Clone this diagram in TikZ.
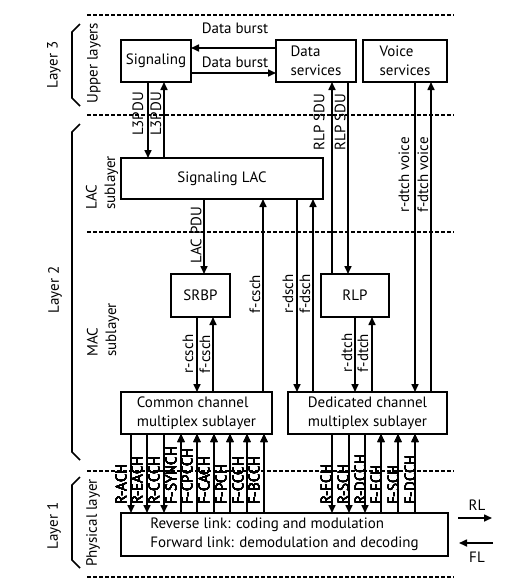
\documentclass[tikz,border=0pt]{standalone}
\usepackage{fontspec}
\setmainfont{PT Sans}
\usetikzlibrary{arrows.meta}
\newcommand\vconn[3]{\draw[arr] (#1,0 |- #2) -- (#1,0 |- #3);}
\begin{document}
\begin{tikzpicture}[x=1pt,y=-1pt,
  box/.style={draw,line width=2pt,inner sep=0pt,outer sep=0pt,align=left,
    font=\fontsize{15}{18.5}\selectfont},
  arr/.style={line width=1.6pt,-{Triangle[length=8pt,width=7pt]}},
  lbl/.style={rotate=90,inner sep=0pt,font=\fontsize{15}{17}\selectfont},
  hlbl/.style={inner sep=0pt,font=\fontsize{15}{17}\selectfont},
  sepline/.style={line width=1.8pt,dash pattern=on 4pt off 2pt},
  brace/.style={line width=1.6pt},
  sidelbl/.style={rotate=90,inner sep=0pt,align=left,font=\fontsize{15}{18.5}\selectfont}
]
\useasboundingbox[fill=white] (0,0) rectangle (527,587);

% separators
\foreach \yy in {15,115,232,471,577} \draw[sepline] (87,\yy) -- (454,\yy);

% braces
\draw[brace] (80,24) -- (72,32) -- (72,98) -- (80,106);
\draw[brace] (80,124) -- (72,132) -- (72,452) -- (80,460);
\draw[brace] (80,477) -- (72,485) -- (72,560) -- (80,568);

% side labels
\node[sidelbl] (l3) at (54,65) {Layer 3};
\node[sidelbl] (ul) at (94,63) {Upper layers};
\node[sidelbl] (l2) at (55,290) {Layer 2};
\node[sidelbl,anchor=west] (lacsub) at (102,210) {LAC\\sublayer};
\node[sidelbl,anchor=west] (macsub) at (103,357) {MAC\\sublayer};
\node[sidelbl] (l1) at (54,526) {Layer 1};
\node[sidelbl] (pl) at (93,523) {Physical layer};

% boxes
\node[box,minimum width=70pt,minimum height=42pt] (sig) at (156,61) {Signaling};
\node[box,minimum width=80pt,minimum height=42pt] (ds) at (316,61) {Data\\services};
\node[box,minimum width=84pt,minimum height=42pt] (voice) at (405,61) {Voice\\services};
\node[box,minimum width=202pt,minimum height=41pt] (lac) at (222,178.5) {Signaling LAC};
\node[box,minimum width=59pt,minimum height=43pt] (srbp) at (200.5,295.5) {SRBP};
\node[box,minimum width=68pt,minimum height=43pt] (rlp) at (355,295.5) {RLP};
\node[box,minimum width=151pt,minimum height=42pt] (cc) at (196.5,413) {Common channel\\multiplex sublayer};
\node[box,minimum width=159pt,minimum height=42pt] (ded) at (367.5,413) {Dedicated channel\\multiplex sublayer};
\node[box,minimum width=327pt,minimum height=43pt] (phy) at (284.5,534.5) {Reverse link: coding and modulation\\Forward link: demodulation and decoding};

% data burst
\draw[arr] (ds.west |- 0,48) -- (sig.east |- 0,48);
\draw[arr] (sig.east |- 0,73) -- (ds.west |- 0,73);
\node[hlbl] (db1) at (235,28) {Data burst};
\node[hlbl] (db2) at (235,62) {Data burst};

% vertical connectors
\vconn{148}{sig.south}{lac.north}
\vconn{164}{lac.north}{sig.south}
\vconn{332}{rlp.north}{ds.south}
\vconn{348}{ds.south}{rlp.north}
\vconn{415}{voice.south}{ded.north}
\vconn{431}{ded.north}{voice.south}
\vconn{204}{lac.south}{srbp.north}
\vconn{263}{cc.north}{lac.south}
\vconn{297}{lac.south}{ded.north}
\vconn{313}{ded.north}{lac.south}
\vconn{197}{srbp.south}{cc.north}
\vconn{213}{cc.north}{srbp.south}
\vconn{355}{rlp.south}{ded.north}
\vconn{372}{ded.north}{rlp.south}

\node[lbl] (t1) at (138,114) {L3PDU};
\node[lbl] (t2) at (156,114) {L3PDU};
\node[lbl] (t3) at (319,122) {RLP SDU};
\node[lbl] (t4) at (340,122) {RLP SDU};
\node[lbl] (t5) at (404,175) {r-dtch voice};
\node[lbl] (t6) at (423,175) {f-dtch voice};
\node[lbl] (t7) at (196,235) {LAC PDU};
\node[lbl] (t8) at (255,294) {f-csch};
\node[lbl] (t9) at (288,294) {r-dsch};
\node[lbl] (t10) at (305,294) {f-dsch};
\node[lbl] (t11) at (188,354) {r-csch};
\node[lbl] (t12) at (205,354) {f-csch};
\node[lbl] (t13) at (347,353) {r-dtch};
\node[lbl] (t14) at (363,353) {f-dtch};

% bottom channels common
\foreach \xx in {131,147,164} \vconn{\xx}{cc.south}{phy.north}
\foreach \xx in {181,197,214,230,247,264} \vconn{\xx}{phy.north}{cc.south}
\foreach \xx/\tt [count=\i] in {121/R-ACH,137/R-EACH,154/R-CCCH,171/F-SYNCH,187/F-CPCCH,204/F-CACH,221/F-PCH,238/F-CCCH,254/F-BCCH}
  \node[lbl,anchor=west] (c\i) at (\xx,505) {\tt};
% bottom channels dedicated
\foreach \xx in {332,349,365} \vconn{\xx}{ded.south}{phy.north}
\foreach \xx in {381,398,415} \vconn{\xx}{phy.north}{ded.south}
\foreach \xx/\tt [count=\i] in {326/R-FCH,343/R-SCH,360/R-DCCH,376/F-FCH,393/F-SCH,410/F-DCCH}
  \node[lbl,anchor=west] (d\i) at (\xx,505) {\tt};

% RL / FL
\coordinate (rla) at (458,518);
\coordinate (rlb) at (492,518);
\coordinate (fla) at (493,543);
\coordinate (flb) at (459,543);
\draw[arr] (rla) -- (rlb);
\draw[arr] (fla) -- (flb);
\node[hlbl] (rl) at (477,505) {RL};
\node[hlbl] (fl) at (477,557) {FL};
\end{tikzpicture}
\end{document}
